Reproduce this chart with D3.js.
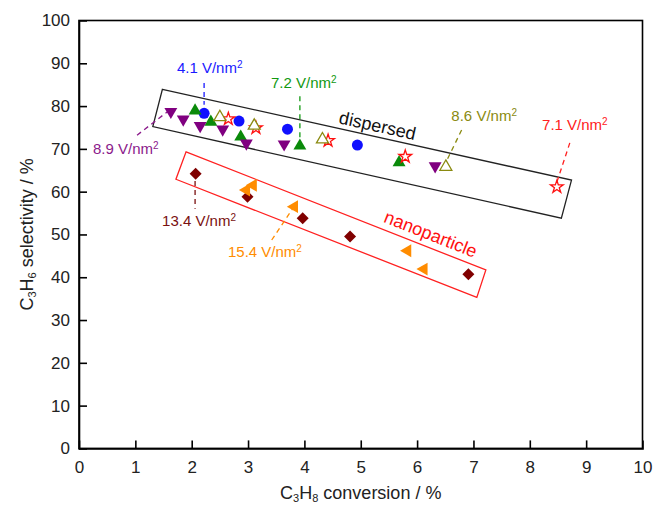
<!DOCTYPE html>
<html>
<head>
<meta charset="utf-8">
<script src="https://cdn.jsdelivr.net/npm/d3@7"></script>
<style>
  body { margin: 0; background: #fff; }
  svg text { font-family: "Liberation Sans", Arial, sans-serif; }
</style>
</head>
<body>
<div id="chart"></div>
<script>
// tick values
const xTicks = [0, 1, 2, 3, 4, 5, 6, 7, 8, 9, 10];
const yTicks = [0, 10, 20, 30, 40, 50, 60, 70, 80, 90, 100];

// [conversion %, selectivity %]
const blue41 = [[2.22, 78.3], [2.84, 76.5], [3.70, 74.6], [4.94, 70.9]];
const green72 = [[2.06, 78.9], [2.34, 76.3], [2.87, 72.8], [3.92, 70.7], [5.68, 66.8]];
const red71 = [[2.65, 77.0], [3.14, 74.9], [4.42, 71.9], [5.79, 68.2], [8.48, 61.1]];
const olive86 = [[2.50, 77.4], [3.11, 75.4], [4.32, 72.2], [6.51, 65.8]];
const purple89 = [[1.63, 78.7], [1.85, 76.9], [2.15, 75.4], [2.55, 74.6], [2.97, 71.3], [3.64, 71.1], [6.32, 66.0]];
const darkred134 = [[2.07, 64.2], [2.99, 58.8], [3.97, 53.8], [4.81, 49.5], [6.91, 40.7]];
const orange154 = [[2.97, 60.4], [3.09, 61.5], [3.82, 56.5], [5.83, 46.2], [6.12, 41.9]];

// group boxes (corners in data units)
const dispersedBox = [[1.48, 83.9], [8.74, 62.7], [8.56, 53.8], [1.31, 75.2]];
const nanoBox = [[1.90, 69.3], [7.22, 41.7], [7.06, 35.3], [1.72, 62.9]];

// annotation labels: text position and leader line, data units
const labels = ["4.1", "7.2", "8.6", "7.1", "8.9", "13.4", "15.4"];
const labelPos = [[2.32, 87.7], [3.99, 84.2], [7.19, 76.6], [8.80, 74.4], [0.83, 68.9], [2.13, 52.0], [3.30, 44.7]];
const leaders = [
  [[2.22, 85.4], [2.22, 80.3]],
  [[3.92, 82.3], [3.92, 72.6]],
  [[6.79, 74.4], [6.52, 67.1]],
  [[8.71, 71.4], [8.48, 62.2]],
  [[1.03, 73.2], [1.61, 79.1]],
  [[2.06, 62.5], [2.06, 56.0]],
  [[3.42, 48.7], [3.80, 56.2]]
];

const width = 654, height = 510;
const margin = { top: 20.5, right: 11.5, bottom: 61.6, left: 79 };
const innerWidth = width - margin.left - margin.right;
const innerHeight = height - margin.top - margin.bottom;

const svg = d3.select("#chart").append("svg")
  .attr("width", width)
  .attr("height", height);

const g = svg.append("g")
  .attr("transform", "translate(" + margin.left + "," + margin.top + ")");

const x = d3.scaleLinear().domain([0, 10]).range([0, innerWidth]);
const y = d3.scaleLinear().domain([0, 100]).range([innerHeight, 0]);

// frame
g.append("rect")
  .attr("width", innerWidth)
  .attr("height", innerHeight)
  .attr("fill", "none")
  .attr("stroke", "#000")
  .attr("stroke-width", 1.6);

const xAxis = g.append("g")
  .attr("transform", "translate(0," + innerHeight + ")")
  .call(d3.axisBottom(x).tickValues(xTicks).tickSize(-8).tickPadding(13).tickFormat(d3.format("d")));
const yAxis = g.append("g")
  .call(d3.axisLeft(y).tickValues(yTicks).tickSize(-8).tickPadding(9).tickFormat(d3.format("d")));

[xAxis, yAxis].forEach((a) => {
  a.select(".domain").attr("stroke-width", 1.6);
  a.selectAll(".tick line").attr("stroke-width", 1.6);
  a.selectAll(".tick text").style("font-size", "17px").attr("fill", "#222");
});
xAxis.selectAll(".tick").filter((d) => d === 0 || d === 10).select("line").remove();
yAxis.selectAll(".tick").filter((d) => d === 0 || d === 100).select("line").remove();

// axis titles
const xt = svg.append("text")
  .attr("x", margin.left + innerWidth / 2)
  .attr("y", 499)
  .attr("text-anchor", "middle")
  .style("font-size", "18px")
  .attr("fill", "#222");
xt.append("tspan").text("C");
xt.append("tspan").text("3").attr("baseline-shift", "-30%").style("font-size", "11px");
xt.append("tspan").text("H");
xt.append("tspan").text("8").attr("baseline-shift", "-30%").style("font-size", "11px");
xt.append("tspan").text(" conversion / %");

const yt = svg.append("text")
  .attr("transform", "translate(33," + (margin.top + innerHeight / 2) + ") rotate(-90)")
  .attr("text-anchor", "middle")
  .style("font-size", "18px")
  .attr("fill", "#222");
yt.append("tspan").text("C");
yt.append("tspan").text("3").attr("baseline-shift", "-30%").style("font-size", "11px");
yt.append("tspan").text("H");
yt.append("tspan").text("6").attr("baseline-shift", "-30%").style("font-size", "11px");
yt.append("tspan").text(" selectivity / %");

// group boxes
const poly = d3.line().x((d) => x(d[0])).y((d) => y(d[1])).curve(d3.curveLinearClosed);
g.append("path").attr("d", poly(dispersedBox)).attr("fill", "none").attr("stroke", "#222").attr("stroke-width", 1.3);
g.append("path").attr("d", poly(nanoBox)).attr("fill", "none").attr("stroke", "#ff2020").attr("stroke-width", 1.3);

function boxLabel(box, text, color, frac, offset) {
  const p0 = [x(box[0][0]), y(box[0][1])];
  const p1 = [x(box[1][0]), y(box[1][1])];
  const ang = Math.atan2(p1[1] - p0[1], p1[0] - p0[0]) * 180 / Math.PI;
  const px = p0[0] + (p1[0] - p0[0]) * frac;
  const py = p0[1] + (p1[1] - p0[1]) * frac;
  g.append("text")
    .attr("transform", "translate(" + px + "," + py + ") rotate(" + ang + ")")
    .attr("y", offset)
    .attr("text-anchor", "middle")
    .style("font-size", "18px")
    .attr("fill", color)
    .text(text);
}
boxLabel(dispersedBox, "dispersed", "#111", 0.52, -5);
boxLabel(nanoBox, "nanoparticle", "#ff1010", 0.8, -7);

// leader lines + labels
const labelColors = ["#1a1aff", "#119911", "#8a8a10", "#ff2020", "#8b1a8b", "#7a1010", "#ff8c00"];
leaders.forEach((l, i) => {
  g.append("line")
    .attr("x1", x(l[0][0])).attr("y1", y(l[0][1]))
    .attr("x2", x(l[1][0])).attr("y2", y(l[1][1]))
    .attr("stroke", labelColors[i])
    .attr("stroke-width", 1.3)
    .attr("stroke-dasharray", "5,4");
});
labels.forEach((t, i) => {
  const tx = g.append("text")
    .attr("x", x(labelPos[i][0]))
    .attr("y", y(labelPos[i][1]))
    .attr("text-anchor", "middle")
    .style("font-size", "15px")
    .attr("fill", labelColors[i]);
  tx.append("tspan").text(t + " V/nm");
  tx.append("tspan").text("2").attr("baseline-shift", "55%").style("font-size", "10px");
});

// markers
function markers(data, type, size, rot, fill, stroke) {
  g.append("g").selectAll("path")
    .data(data)
    .enter()
    .append("path")
    .attr("transform", (d) => "translate(" + x(d[0]) + "," + y(d[1]) + ") rotate(" + rot + ")")
    .attr("d", d3.symbol().type(type).size(size))
    .attr("fill", fill)
    .attr("stroke", stroke)
    .attr("stroke-width", stroke === "none" ? 0 : 1.3);
}
markers(darkred134, d3.symbolSquare, 72, 45, "#800000", "none");
markers(orange154, d3.symbolTriangle, 72, -90, "#ff8c00", "none");
markers(blue41, d3.symbolCircle, 95, 0, "#1010ff", "none");
markers(green72, d3.symbolTriangle, 72, 0, "#0a8a0a", "none");
markers(red71, d3.symbolStar, 50, 0, "#fff", "#ff1010");
markers(olive86, d3.symbolTriangle, 62, 0, "#fff", "#8a8a10");
markers(purple89, d3.symbolTriangle, 72, 180, "#800080", "none");
</script>
</body>
</html>
